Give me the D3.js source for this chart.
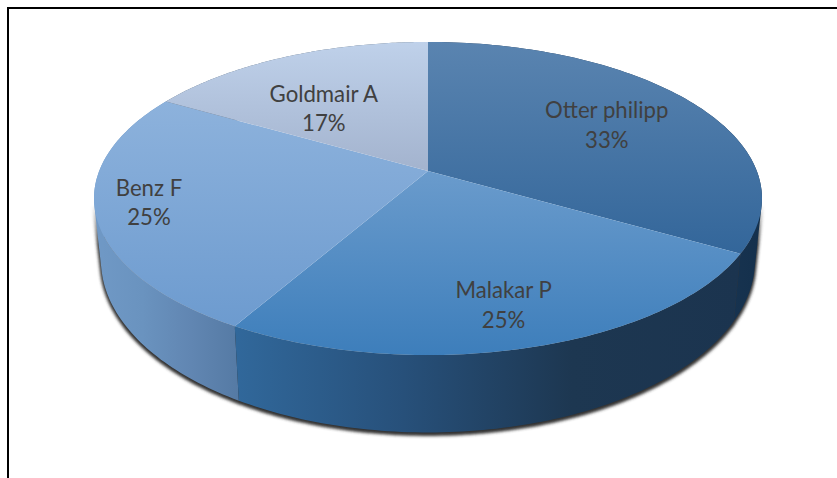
<!DOCTYPE html>
<html>
<head>
<meta charset="utf-8">
<style>
    html, body { margin: 0; padding: 0; background: #fff; overflow: hidden; }
    text { font-family: Lato, "Open Sans", sans-serif; font-size: 22.2px; fill: #404040; text-anchor: middle; }
</style>
</head>
<body>
<svg id="chart" width="837" height="478"></svg>
<script src="https://cdn.jsdelivr.net/npm/d3@7"></script>
<script>
    // data
    const names = ["Otter philipp", "Malakar P", "Benz F", "Goldmair A"];
    const shares = [33.3, 25, 25, 16.7];

    // top face gradient, top to bottom
    const faceColors = [
        ["#5a84b0", "#33669a"],
        ["#6a9bcc", "#3d7ebb"],
        ["#8db2dc", "#6d9bcf"],
        ["#bfd1ea", "#a3b3ce"]
    ];
    // wall gradient, left to right
    const wallColors = [
        ["#1f3a58", "#1f3a58", "#1f3a58", "#14304c"],
        ["#31689b", "#27507a", "#1d3751", "#1b344f"],
        ["#7099c6", "#6a93bf", "#6186b2", "#557aa4"],
        ["#556677", "#556677", "#556677", "#556677"]
    ];
    // label placement: fraction of the radius, then a small nudge in pixels
    const labelRadius = [0.665, 0.767, 0.845, 0.70];
    const labelNudge = [2, 5, -3, 21];

    // perspective of the disc
    const cx = 428, cy = 171;
    const a = 328.8, b = 151.7, k = 0.1757;
    const lowerX = 0.979, lowerY = 1.1, lowerCy = 230;

    function project(theta, r) {
        const u = Math.sin(theta) * r;
        const v = -Math.cos(theta) * r;
        const w = 1 - k * v;
        return [cx + a * u / w, cy + b * v / w];
    }

    function projectLower(theta) {
        const p = project(theta, 1);
        return [cx + lowerX * (p[0] - cx), lowerCy + lowerY * (p[1] - cy)];
    }

    const svg = d3.select("#chart");
    const defs = svg.append("defs");

    defs.append("filter").attr("id", "blur")
        .attr("x", "-10%").attr("y", "-10%").attr("width", "120%").attr("height", "120%")
        .append("feGaussianBlur").attr("stdDeviation", 1.8);

    // the shadow fades in below the widest part of the disc
    const fade = defs.append("linearGradient").attr("id", "shadowFade")
        .attr("gradientUnits", "userSpaceOnUse")
        .attr("x1", 0).attr("y1", 205).attr("x2", 0).attr("y2", 245);
    fade.append("stop").attr("offset", 0).attr("stop-color", "#000");
    fade.append("stop").attr("offset", 1).attr("stop-color", "#fff");

    defs.append("mask").attr("id", "belowRim")
        .attr("maskUnits", "userSpaceOnUse")
        .attr("x", 0).attr("y", 0).attr("width", 837).attr("height", 478)
        .append("rect")
        .attr("width", 837).attr("height", 478)
        .attr("fill", "url(#shadowFade)");

    const line = d3.line();
    const pie = d3.pie().sort(null).value(d => d);
    const slices = pie(shares);

    function samples(d) {
        const n = 90;
        return d3.range(n + 1).map(i => d.startAngle + (d.endAngle - d.startAngle) * i / n);
    }

    // one quad per step, all wound the same way, so the fold at the
    // left and right of the disc stays filled
    function wallPath(d) {
        const t = samples(d);
        return d3.range(t.length - 1).map(i => {
            const quad = [project(t[i], 1), project(t[i + 1], 1), projectLower(t[i + 1]), projectLower(t[i])];
            if (d3.polygonArea(quad) < 0) quad.reverse();
            return line(quad) + "Z";
        }).join("");
    }

    function facePath(d) {
        return line([[cx, cy]].concat(samples(d).map(x => project(x, 1)))) + "Z";
    }

    slices.forEach((d, i) => {
        const face = defs.append("linearGradient").attr("id", "face" + i)
            .attr("x1", 0).attr("y1", 0).attr("x2", 0).attr("y2", 1);
        faceColors[i].forEach((c, j) => face.append("stop").attr("offset", j).attr("stop-color", c));

        const wall = defs.append("linearGradient").attr("id", "wall" + i)
            .attr("x1", 0).attr("y1", 0).attr("x2", 1).attr("y2", 0);
        wallColors[i].forEach((c, j) => wall.append("stop").attr("offset", j / 3).attr("stop-color", c));
    });

    // frame, open on the right and at the bottom
    svg.append("path")
        .attr("d", "M8,478V8H837")
        .attr("fill", "none")
        .attr("stroke", "#000")
        .attr("stroke-width", 2);

    // soft shadow under the disc
    svg.append("g")
        .attr("mask", "url(#belowRim)")
        .append("g")
        .attr("filter", "url(#blur)")
        .attr("transform", "translate(0,2)")
        .selectAll("path")
        .data(slices)
        .join("path")
        .attr("d", wallPath)
        .attr("fill", "#333")
        .attr("stroke", "#333")
        .attr("stroke-width", 3);

    // walls, back ones first
    svg.append("g")
        .selectAll("path")
        .data([3, 0, 2, 1])
        .join("path")
        .attr("d", i => wallPath(slices[i]))
        .attr("fill", i => `url(#wall${i})`);

    svg.append("g")
        .selectAll("path")
        .data(slices)
        .join("path")
        .attr("d", facePath)
        .attr("fill", (d, i) => `url(#face${i})`);

    const labels = svg.append("g")
        .selectAll("text")
        .data(slices)
        .join("text")
        .attr("transform", (d, i) => {
            const p = project((d.startAngle + d.endAngle) / 2, labelRadius[i]);
            return `translate(${p[0]},${p[1] + labelNudge[i]})`;
        });

    labels.append("tspan").attr("x", 0).attr("y", -7).text((d, i) => names[i]);
    labels.append("tspan").attr("x", 0).attr("y", 22.5).text((d, i) => Math.round(shares[i]) + "%");
</script>
</body>
</html>
